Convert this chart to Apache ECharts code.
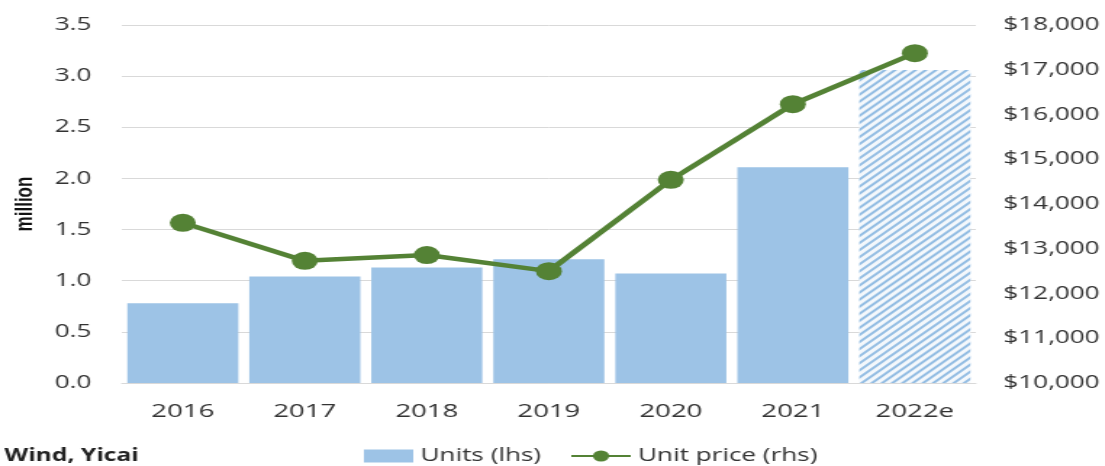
<!DOCTYPE html>
<html>
<head>
<meta charset="utf-8">
<script src="https://cdn.jsdelivr.net/npm/echarts@6/dist/echarts.min.js"></script>
<style>
html,body{margin:0;padding:0;background:#fff;overflow:hidden;width:1105px;height:466px}
#c{width:762px;height:466px;transform:scaleX(1.45);transform-origin:0 0}
</style>
</head>
<body>
<div id="c"></div>
<script>
const categories = ['2016', '2017', '2018', '2019', '2020', '2021', '2022e'];
const units = [0.78, 1.04, 1.13, 1.21, 1.07, 2.11, 3.06];
const unitPrice = [13580, 12730, 12860, 12500, 14540, 16230, 17370];
const leftTicks = [0, 0.5, 1.0, 1.5, 2.0, 2.5, 3.0, 3.5];
const rightTicks = [10000, 11000, 12000, 13000, 14000, 15000, 16000, 17000, 18000];

const FONT = '"Open Sans", "Noto Sans", sans-serif';
const barColor = '#9dc3e6';
const lineColor = '#548235';

const barData = units.map((v, i) => categories[i].endsWith('e') ? {
  value: v,
  itemStyle: {
    color: '#f4f8fc',
    decal: {
      symbol: 'rect', symbolSize: 1, color: '#93bde3',
      dashArrayX: [1, 0], dashArrayY: [2, 3], rotation: -Math.PI / 4
    }
  }
} : v);

const chart = echarts.init(document.getElementById('c'), null, {renderer: 'canvas'});
chart.setOption({
  animation: false,
  backgroundColor: '#fff',
  grid: {left: 84, right: 89, top: 25, bottom: 83, containLabel: false},
  legend: [
    {data: [{name: 'Units (lhs)', icon: 'rect'}], left: 246, top: 442, itemWidth: 34, itemHeight: 13, itemGap: 4,
     textStyle: {fontFamily: FONT, fontSize: 18, color: '#333'}},
    {data: [{name: 'Unit price (rhs)'}], left: 388, top: 442, itemWidth: 41, itemHeight: 14,
     textStyle: {fontFamily: FONT, fontSize: 18, color: '#333'}}
  ],
  graphic: [{type: 'text', left: 3, top: 448, style: {text: 'Wind, Yicai', font: 'bold 17px "Open Sans", sans-serif', fill: '#222'}}],
  xAxis: {
    type: 'category', data: categories,
    axisLine: {lineStyle: {color: '#d9d9d9'}}, axisTick: {show: false},
    axisLabel: {fontFamily: FONT, fontSize: 19, color: '#333', margin: 19}
  },
  yAxis: [
    {type: 'value', min: leftTicks[0], max: leftTicks[leftTicks.length - 1], interval: 0.5,
     name: 'million', nameLocation: 'middle', nameGap: 58, nameRotate: 90,
     nameTextStyle: {fontFamily: '"Liberation Sans", sans-serif', fontWeight: 'bold', fontSize: 17, color: '#111'},
     axisLabel: {fontFamily: FONT, fontSize: 18, color: '#333', margin: 21, formatter: v => v.toFixed(1)},
     splitLine: {lineStyle: {color: '#d9d9d9'}}, axisLine: {show: false}, axisTick: {show: false}},
    {type: 'value', min: rightTicks[0], max: rightTicks[rightTicks.length - 1], interval: 1000, position: 'right',
     axisLabel: {fontFamily: FONT, fontSize: 18, color: '#333', margin: 19, formatter: v => '$' + v.toLocaleString('en-US')},
     splitLine: {show: false}, axisLine: {show: false}, axisTick: {show: false}}
  ],
  series: [
    {name: 'Units (lhs)', type: 'bar', data: barData, barCategoryGap: '9%', itemStyle: {color: barColor}, yAxisIndex: 0},
    {name: 'Unit price (rhs)', type: 'line', data: unitPrice, yAxisIndex: 1, symbol: 'circle', symbolSize: 18,
     lineStyle: {color: lineColor, width: 4.5}, itemStyle: {color: lineColor}, z: 5}
  ]
});
</script>
</body>
</html>
